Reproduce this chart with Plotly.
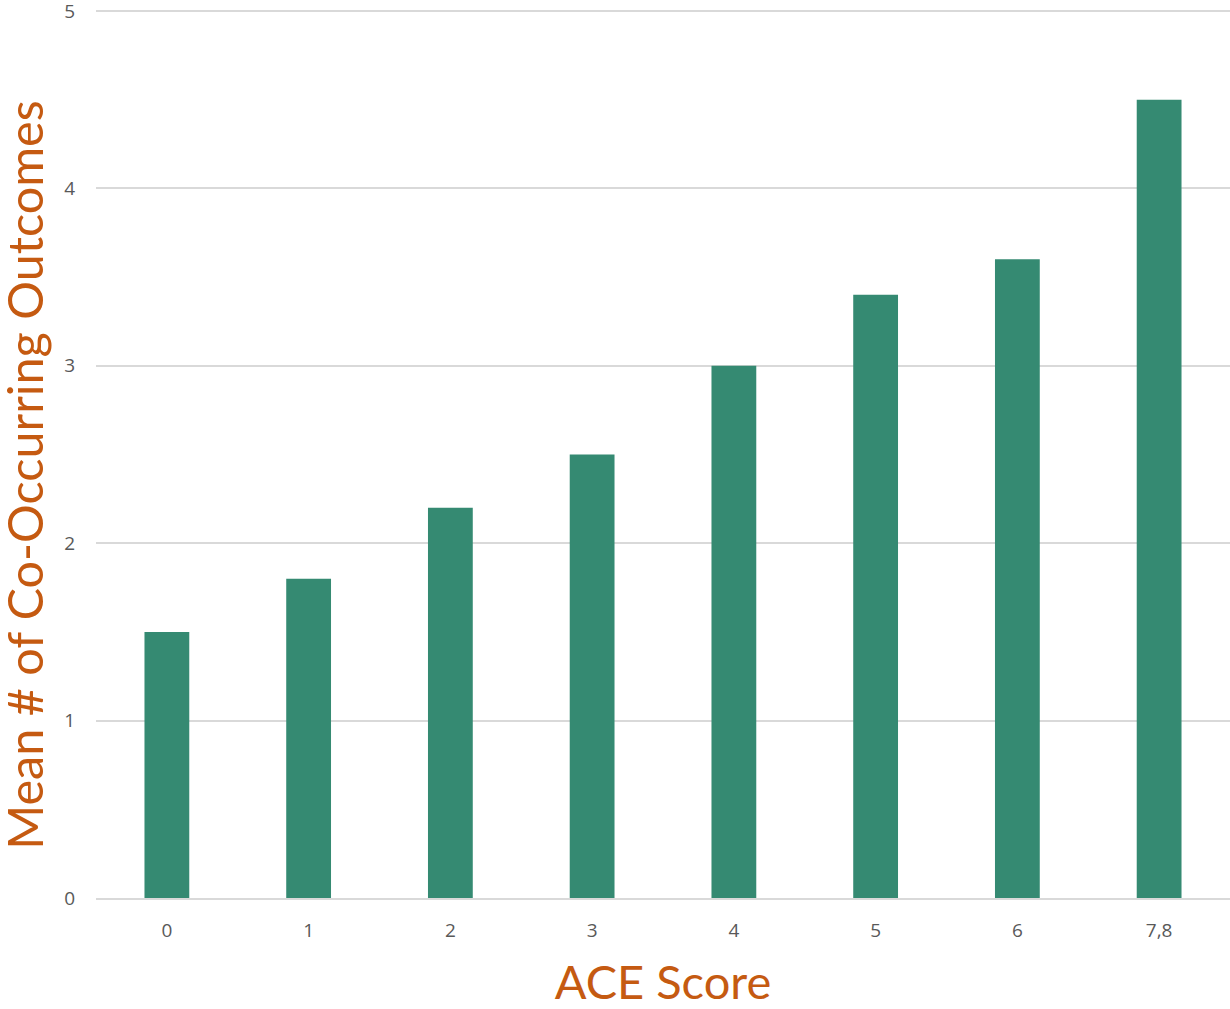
import plotly.graph_objects as go

categories = ["0", "1", "2", "3", "4", "5", "6", "7,8"]
means = [1.5, 1.8, 2.2, 2.5, 3.0, 3.4, 3.6, 4.5]
y_ticks = [0, 1, 2, 3, 4, 5]

bar_color = "#358A72"
title_color = "#C55A11"
tick_color = "#595959"
grid_color = "#D9D9D9"

fig = go.Figure(
    go.Bar(
        x=categories,
        y=means,
        marker=dict(color=bar_color, line=dict(width=0)),
        hoverinfo="skip",
    )
)

fig.update_layout(
    width=1230,
    height=1009,
    margin=dict(l=96, r=0, t=9, b=111, autoexpand=False),
    paper_bgcolor="white",
    plot_bgcolor="white",
    bargap=0.684,
    showlegend=False,
    xaxis=dict(
        type="category",
        automargin=False,
        showgrid=False,
        showline=True,
        linecolor=grid_color,
        linewidth=2,
        ticks="",
        tickfont=dict(family="Open Sans", size=19, color=tick_color),
        ticklabelstandoff=14,
        title=dict(
            text="ACE Score",
            font=dict(family="Lato", size=47, color=title_color),
            standoff=26,
        ),
    ),
    yaxis=dict(
        range=[0, 5.0113],
        tickvals=y_ticks,
        automargin=False,
        showgrid=True,
        gridcolor=grid_color,
        gridwidth=2,
        zeroline=False,
        showline=False,
        ticks="",
        ticklabeloverflow="allow",
        tickfont=dict(family="Open Sans", size=19, color=tick_color),
        ticklabelstandoff=20,
    ),
    annotations=[
        dict(
            text="Mean # of Co-Occurring Outcomes",
            xref="paper",
            yref="paper",
            x=-0.063,
            y=0.4755,
            xanchor="center",
            yanchor="middle",
            textangle=-90,
            showarrow=False,
            font=dict(family="Lato", size=48.5, color=title_color),
        )
    ],
)

fig.write_html(
    "out.html",
    config={"displayModeBar": False, "staticPlot": True},
    post_script="document.body.style.margin='0';document.body.style.overflow='hidden';",
)
